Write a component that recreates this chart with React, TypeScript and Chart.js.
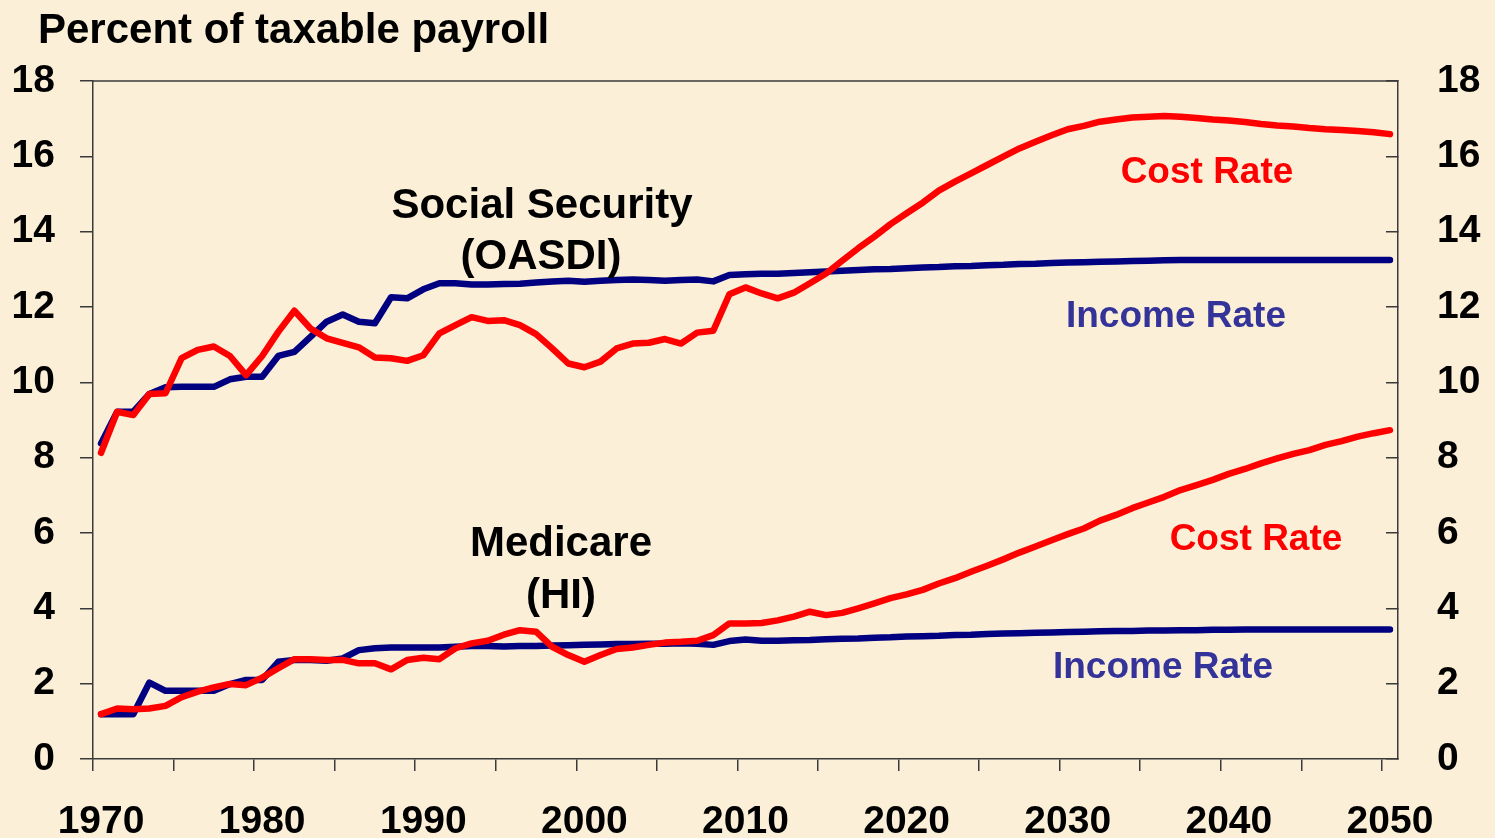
import React, { useEffect, useRef } from 'react';
import { Chart, registerables } from 'chart.js';

Chart.register(...registerables);

// ---------- data ----------
const startYear = 1970;
const endYear = 2050;
const years: number[] = [];
for (let y = startYear; y <= endYear; y++) years.push(y);

const xTickLabels = [1970, 1980, 1990, 2000, 2010, 2020, 2030, 2040, 2050];

// Social Security (OASDI) cost rate, % of taxable payroll
const ssCost = [
  8.13, 9.22, 9.13, 9.69, 9.71, 10.64, 10.86, 10.95, 10.70, 10.19,
  10.70, 11.34, 11.90, 11.43, 11.17, 11.05, 10.93, 10.66, 10.64, 10.57,
  10.72, 11.30, 11.52, 11.73, 11.63, 11.65, 11.52, 11.28, 10.90, 10.50,
  10.40, 10.55, 10.90, 11.03, 11.05, 11.15, 11.03, 11.32, 11.37, 12.34,
  12.52, 12.36, 12.23, 12.38, 12.63, 12.89, 13.23, 13.56, 13.87, 14.20,
  14.49, 14.77, 15.09, 15.33, 15.55, 15.77, 15.99, 16.21, 16.39, 16.56,
  16.72, 16.81, 16.92, 16.98, 17.03, 17.05, 17.07, 17.05, 17.02, 16.98,
  16.95, 16.91, 16.86, 16.82, 16.79, 16.75, 16.72, 16.70, 16.67, 16.64,
  16.59,
];

// Social Security (OASDI) income rate
const ssIncome = [
  8.38, 9.22, 9.22, 9.69, 9.87, 9.88, 9.88, 9.88, 10.08, 10.15,
  10.15, 10.70, 10.81, 11.21, 11.61, 11.80, 11.61, 11.57, 12.26, 12.23,
  12.47, 12.63, 12.63, 12.60, 12.60, 12.61, 12.62, 12.65, 12.68, 12.70,
  12.67, 12.70, 12.72, 12.73, 12.72, 12.70, 12.72, 12.73, 12.68, 12.85,
  12.87, 12.88, 12.88, 12.90, 12.92, 12.94, 12.96, 12.98, 13.00, 13.01,
  13.03, 13.05, 13.06, 13.08, 13.09, 13.11, 13.12, 13.14, 13.15, 13.17,
  13.18, 13.19, 13.20, 13.21, 13.22, 13.23, 13.24, 13.25, 13.25, 13.25,
  13.25, 13.25, 13.25, 13.25, 13.25, 13.25, 13.25, 13.25, 13.25, 13.25,
  13.25,
];

// Medicare (HI) cost rate
const hiCost = [
  1.19, 1.34, 1.32, 1.34, 1.41, 1.64, 1.79, 1.90, 1.99, 1.96,
  2.16, 2.41, 2.65, 2.65, 2.63, 2.63, 2.54, 2.54, 2.38, 2.63,
  2.69, 2.65, 2.94, 3.07, 3.14, 3.30, 3.42, 3.38, 2.98, 2.76,
  2.58, 2.76, 2.92, 2.96, 3.03, 3.09, 3.11, 3.14, 3.29, 3.60,
  3.60, 3.61, 3.68, 3.78, 3.91, 3.82, 3.88, 4.00, 4.13, 4.27,
  4.37, 4.49, 4.66, 4.80, 4.97, 5.13, 5.30, 5.48, 5.64, 5.81,
  5.97, 6.12, 6.33, 6.48, 6.66, 6.81, 6.96, 7.14, 7.27, 7.41,
  7.57, 7.70, 7.85, 7.98, 8.10, 8.20, 8.34, 8.44, 8.56, 8.65,
  8.73,
];

// Medicare (HI) income rate
const hiIncome = [
  1.19, 1.19, 1.19, 2.03, 1.81, 1.81, 1.81, 1.81, 1.99, 2.10,
  2.10, 2.58, 2.63, 2.63, 2.61, 2.67, 2.89, 2.94, 2.96, 2.96,
  2.96, 2.96, 2.98, 3.00, 3.00, 2.99, 3.00, 3.00, 3.01, 3.02,
  3.03, 3.04, 3.05, 3.05, 3.06, 3.06, 3.07, 3.06, 3.03, 3.13,
  3.17, 3.14, 3.14, 3.15, 3.16, 3.18, 3.19, 3.20, 3.22, 3.23,
  3.25, 3.26, 3.27, 3.29, 3.30, 3.32, 3.33, 3.34, 3.35, 3.36,
  3.37, 3.38, 3.39, 3.40, 3.40, 3.41, 3.41, 3.42, 3.42, 3.43,
  3.43, 3.44, 3.44, 3.44, 3.44, 3.44, 3.44, 3.44, 3.44, 3.44,
  3.44,
];

// ---------- styles ----------
const BG = '#FBEFD8';
const AXIS = '#3a3a3a';
const NAVY = '#000080';
const RED = '#FF0000';
const LABEL_BLUE = '#333399';
const FONT = '"Liberation Sans", Arial, Helvetica, sans-serif';

const texts = [
  { text: 'Percent of taxable payroll', x: 38, y: 43, color: '#000', size: 42, align: 'left' as CanvasTextAlign },
  { text: 'Social Security', x: 542, y: 218, color: '#000', size: 42, align: 'center' as CanvasTextAlign },
  { text: '(OASDI)', x: 541, y: 269, color: '#000', size: 42, align: 'center' as CanvasTextAlign },
  { text: 'Medicare', x: 561, y: 556, color: '#000', size: 42, align: 'center' as CanvasTextAlign },
  { text: '(HI)', x: 561, y: 608, color: '#000', size: 42, align: 'center' as CanvasTextAlign },
  { text: 'Cost Rate', x: 1207, y: 183, color: RED, size: 37, align: 'center' as CanvasTextAlign },
  { text: 'Income Rate', x: 1176, y: 327, color: LABEL_BLUE, size: 37, align: 'center' as CanvasTextAlign },
  { text: 'Cost Rate', x: 1256, y: 550, color: RED, size: 37, align: 'center' as CanvasTextAlign },
  { text: 'Income Rate', x: 1163, y: 678, color: LABEL_BLUE, size: 37, align: 'center' as CanvasTextAlign },
];

const decorPlugin = {
  id: 'decor',
  beforeDatasetsDraw(chart: any) {
    const { ctx, chartArea } = chart;
    ctx.save();
    ctx.strokeStyle = AXIS;
    ctx.lineWidth = 1.5;
    ctx.beginPath();
    ctx.moveTo(chartArea.left, chartArea.top);
    ctx.lineTo(chartArea.right, chartArea.top);
    ctx.stroke();
    ctx.restore();
  },
  afterDraw(chart: any) {
    const { ctx } = chart;
    ctx.save();
    ctx.textBaseline = 'alphabetic';
    for (const t of texts) {
      ctx.font = `bold ${t.size}px ${FONT}`;
      ctx.fillStyle = t.color;
      ctx.textAlign = t.align;
      ctx.fillText(t.text, t.x, t.y);
    }
    ctx.restore();
  },
};

export default function App() {
  const canvasRef = useRef<HTMLCanvasElement | null>(null);

  useEffect(() => {
    document.body.style.margin = '0';
    const canvas = canvasRef.current;
    if (!canvas) return;
    const tickFont = { family: FONT, size: 39, weight: 'bold' as const };
    const chart = new Chart(canvas, {
      type: 'line',
      data: {
        labels: years.map(String),
        datasets: [
          { label: 'OASDI Cost Rate', data: ssCost, borderColor: RED, order: 0 },
          { label: 'HI Cost Rate', data: hiCost, borderColor: RED, order: 1 },
          { label: 'OASDI Income Rate', data: ssIncome, borderColor: NAVY, order: 2 },
          { label: 'HI Income Rate', data: hiIncome, borderColor: NAVY, order: 3 },
        ].map((d) => ({
          ...d,
          borderWidth: 6.5,
          pointRadius: 0,
          pointHoverRadius: 0,
          tension: 0,
          fill: false,
          borderCapStyle: 'round' as const,
          borderJoinStyle: 'round' as const,
          yAxisID: 'y',
        })),
      },
      options: {
        responsive: false,
        animation: false,
        events: [],
        layout: { padding: { top: 81, left: 0, right: 0, bottom: 0 } },
        plugins: {
          legend: { display: false },
          tooltip: { enabled: false },
          title: { display: false },
        },
        scales: {
          x: {
            type: 'category',
            offset: true,
            afterFit: (scale: any) => {
              scale.height = 79;
            },
            grid: {
              offset: true,
              drawOnChartArea: false,
              drawTicks: true,
              tickLength: 12,
              lineWidth: 1.5,
              color: (c: any) =>
                typeof c.index === 'number' && c.index < years.length && years[c.index] % 5 === 0
                  ? AXIS
                  : 'rgba(0,0,0,0)',
            },
            border: { display: true, color: AXIS, width: 1.5 },
            ticks: {
              autoSkip: false,
              maxRotation: 0,
              minRotation: 0,
              padding: 28,
              color: '#000',
              font: tickFont,
              callback: (_v: any, i: number) =>
                xTickLabels.includes(years[i]) ? String(years[i]) : '',
            },
          },
          y: {
            position: 'left',
            min: 0,
            max: 18,
            afterFit: (scale: any) => {
              scale.width = 93;
            },
            grid: {
              drawOnChartArea: false,
              drawTicks: true,
              tickLength: 13,
              lineWidth: 1.5,
              color: AXIS,
            },
            border: { display: true, color: AXIS, width: 1.5 },
            ticks: {
              stepSize: 2,
              padding: 25,
              color: '#000',
              font: tickFont,
            },
          },
          y2: {
            position: 'right',
            min: 0,
            max: 18,
            afterFit: (scale: any) => {
              scale.width = 97;
            },
            grid: {
              drawOnChartArea: false,
              drawTicks: true,
              tickLength: -12,
              lineWidth: 1.5,
              color: AXIS,
            },
            border: { display: true, color: AXIS, width: 1.5 },
            ticks: {
              stepSize: 2,
              padding: 51,
              color: '#000',
              font: tickFont,
            },
          },
        },
      },
      plugins: [decorPlugin],
    } as any);
    return () => chart.destroy();
  }, []);

  return (
    <div
      style={{
        position: 'fixed',
        left: 0,
        top: 0,
        width: 1495,
        height: 838,
        background: BG,
        overflow: 'hidden',
      }}
    >
      <canvas ref={canvasRef} width={1495} height={838} style={{ display: 'block', width: 1495, height: 838 }} />
    </div>
  );
}
